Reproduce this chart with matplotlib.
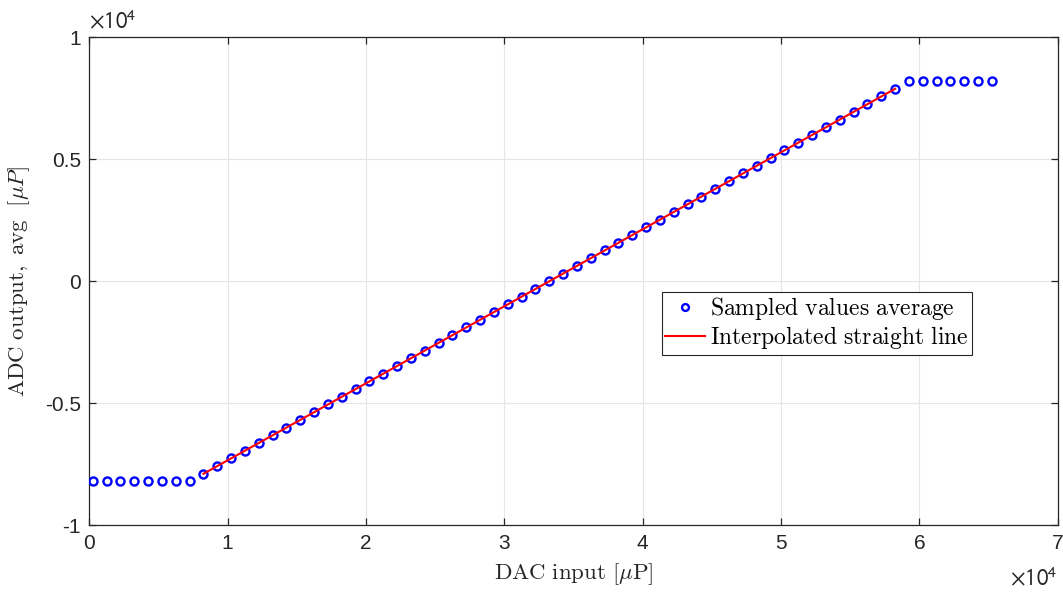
import numpy as np
import matplotlib.pyplot as plt
from matplotlib.ticker import FuncFormatter

plt.rcParams['font.family'] = ['Liberation Sans', 'DejaVu Sans']
plt.rcParams['mathtext.fontset'] = 'cm'

# -----------------------------
# data
# -----------------------------
dac_in = [
    250, 1250, 2250, 3250, 4250, 5250, 6250, 7250, 8250, 9250,
    10250, 11250, 12250, 13250, 14250, 15250, 16250, 17250, 18250, 19250,
    20250, 21250, 22250, 23250, 24250, 25250, 26250, 27250, 28250, 29250,
    30250, 31250, 32250, 33250, 34250, 35250, 36250, 37250, 38250, 39250,
    40250, 41250, 42250, 43250, 44250, 45250, 46250, 47250, 48250, 49250,
    50250, 51250, 52250, 53250, 54250, 55250, 56250, 57250, 58250, 59250,
    60250, 61250, 62250, 63250, 64250, 65250,
]
adc_avg = [
    -8192, -8192, -8192, -8192, -8192, -8192, -8192, -8192,
    -7890, -7574, -7259, -6943, -6628, -6312, -5996, -5681, -5365, -5050,
    -4734, -4418, -4103, -3787, -3472, -3156, -2840, -2525, -2209, -1894,
    -1578, -1262, -947, -631, -316, 0, 316, 631, 947, 1262,
    1578, 1894, 2209, 2525, 2840, 3156, 3472, 3787, 4103, 4418,
    4734, 5050, 5365, 5681, 5996, 6312, 6628, 6943, 7259, 7574,
    7890,
    8191, 8191, 8191, 8191, 8191, 8191, 8191,
]

# interpolated straight line end points
line_x = [8250, 58250]
line_y = [-7890, 7890]

fig = plt.figure(figsize=(10.63, 6.01), dpi=100)
ax = fig.add_axes([0.084, 0.126, 0.911, 0.812])

ax.plot(dac_in, adc_avg, 'o', color='#0000ff', markerfacecolor='none',
        markersize=5.8, markeredgewidth=1.7, linestyle='none',
        label=r'$\mathrm{Sampled\ values\ average}$', zorder=3)
ax.plot(line_x, line_y, color='#ff0000', linewidth=1.5,
        label=r'$\mathrm{Interpolated\ straight\ line}$', zorder=4)

ax.set_xlim(0, 70000)
ax.set_ylim(-10000, 10000)
ax.set_xticks(np.arange(0, 70001, 10000))
ax.set_yticks(np.arange(-10000, 10001, 5000))

fmt = FuncFormatter(lambda v, p: '%g' % (v / 1e4))
ax.xaxis.set_major_formatter(fmt)
ax.yaxis.set_major_formatter(fmt)

ax.grid(True, color='#e6e6e6', linewidth=0.8)
ax.set_axisbelow(True)

for sp in ax.spines.values():
    sp.set_color('#262626')
    sp.set_linewidth(0.9)

ax.tick_params(direction='in', length=5, width=0.9, top=True, right=True,
               labelsize=15, colors='#262626', pad=6)

ax.set_xlabel(r'$\mathrm{DAC\ input\ }[\mu\mathrm{P}]$', fontsize=16.5,
              color='#262626', labelpad=6)
ax.set_ylabel(r'$\mathrm{ADC\ output,\ avg}\ \ [\mu P]$', fontsize=16.5,
              color='#262626', labelpad=9)

# exponent labels
ax.text(0.0, 1.008, r'$\times10^{4}$', transform=ax.transAxes, fontsize=16.5,
        ha='left', va='bottom', color='#262626', math_fontfamily='stixsans')
ax.text(1.0, -0.085, r'$\times10^{4}$', transform=ax.transAxes, fontsize=16.5,
        ha='right', va='top', color='#262626', math_fontfamily='stixsans')

leg = ax.legend(loc='upper left', bbox_to_anchor=(0.591, 0.479),
                borderaxespad=0, fontsize=17, fancybox=False, framealpha=1,
                edgecolor='#262626', handlelength=1.7, handletextpad=0.2,
                borderpad=0.15, labelspacing=0.1, markerscale=0.85)
leg.get_frame().set_linewidth(0.8)

plt.savefig('out.png', dpi=100)
